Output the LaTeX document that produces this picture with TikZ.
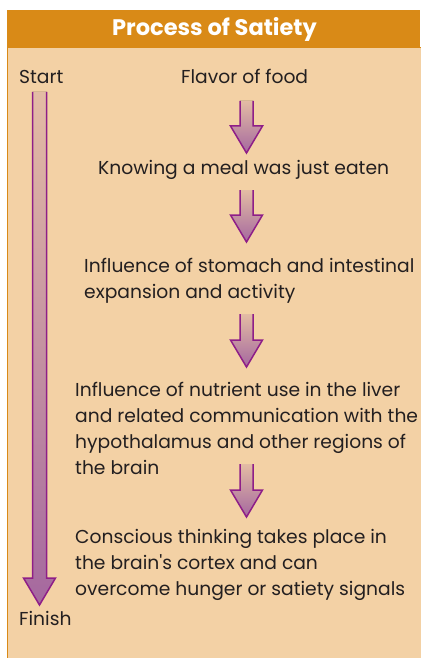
\documentclass[tikz,border=0pt]{standalone}
\usepackage{fontspec}
\setmainfont{Poppins}[Ligatures=TeXOff]
\usetikzlibrary{positioning}
\definecolor{SatietyBand}{HTML}{D98A17}
\definecolor{SatietyPaper}{HTML}{F3D1A5}
\definecolor{SatietyInk}{HTML}{231F20}
\definecolor{SatietyPlum}{HTML}{8E1E88}
\definecolor{SatietyMauve}{HTML}{A5689F}
% shaded block arrow: centre x, top y, tip y, shaft half width, head half width
\newcommand\satarrow[5]{%
  \fill[top color=SatietyPaper!80!SatietyMauve,bottom color=SatietyMauve]
    (#1-#4,#2) -- (#1-#4,#3-27) -- (#1-#5,#3-27) -- (#1,#3) -- (#1+#5,#3-27) -- (#1+#4,#3-27) -- (#1+#4,#2) -- cycle;
  \draw[SatietyPlum,line width=1.5pt,line join=miter]
    (#1-#4,#2) -- (#1-#4,#3-27) -- (#1-#5,#3-27) -- (#1,#3) -- (#1+#5,#3-27) -- (#1+#4,#3-27) -- (#1+#4,#2);
}

\begin{document}
\begin{tikzpicture}[x=1pt,y=-1pt,
    steptext/.style={anchor=base west,inner sep=0pt,text=SatietyInk,align=left,
      font=\fontsize{18.7}{26}\selectfont}]
    \useasboundingbox (0,0) rectangle (420,658);
    \fill[white] (0,0) rectangle (420,658);
    \draw[SatietyBand,fill=SatietyPaper,line width=1pt] (7.5,48) rectangle (421,659);
    \fill[SatietyBand] (7,10) rectangle (420,48);
    \node[text=white,font=\fontsize{22.5}{26}\selectfont\bfseries] (title) at (214.5,29) {Process of Satiety};

    % single lines sit on their baseline, longer texts on their last baseline
    \node[steptext] (start) at (19,84) {Start};
    \node[steptext] (finish) at (19,625) {Finish};
    \node[steptext] (flavor) at (181,84) {Flavor of food};
    \node[steptext] (knowing) at (98,174) {Knowing a meal was just eaten};
    \node[steptext] (stomach) at (84,298) {Influence of stomach and intestinal\\expansion and activity};
    \node[steptext] (liver) at (75,474) {Influence of nutrient use in the liver\\and related communication with the\\hypothalamus and other regions of\\the brain};
    \node[steptext] (cortex) at (75,595) {Conscious thinking takes place in\\the brain's cortex and can\\overcome hunger or satiety signals};

    % start to finish
    \satarrow{39.5}{92}{605}{7}{16}
    % between the steps
    \foreach \top/\tip in {101/153,190/242,314/367,464/517} {
      \satarrow{246.5}{\top}{\tip}{6.5}{16}
    }
  \end{tikzpicture}
\end{document}
